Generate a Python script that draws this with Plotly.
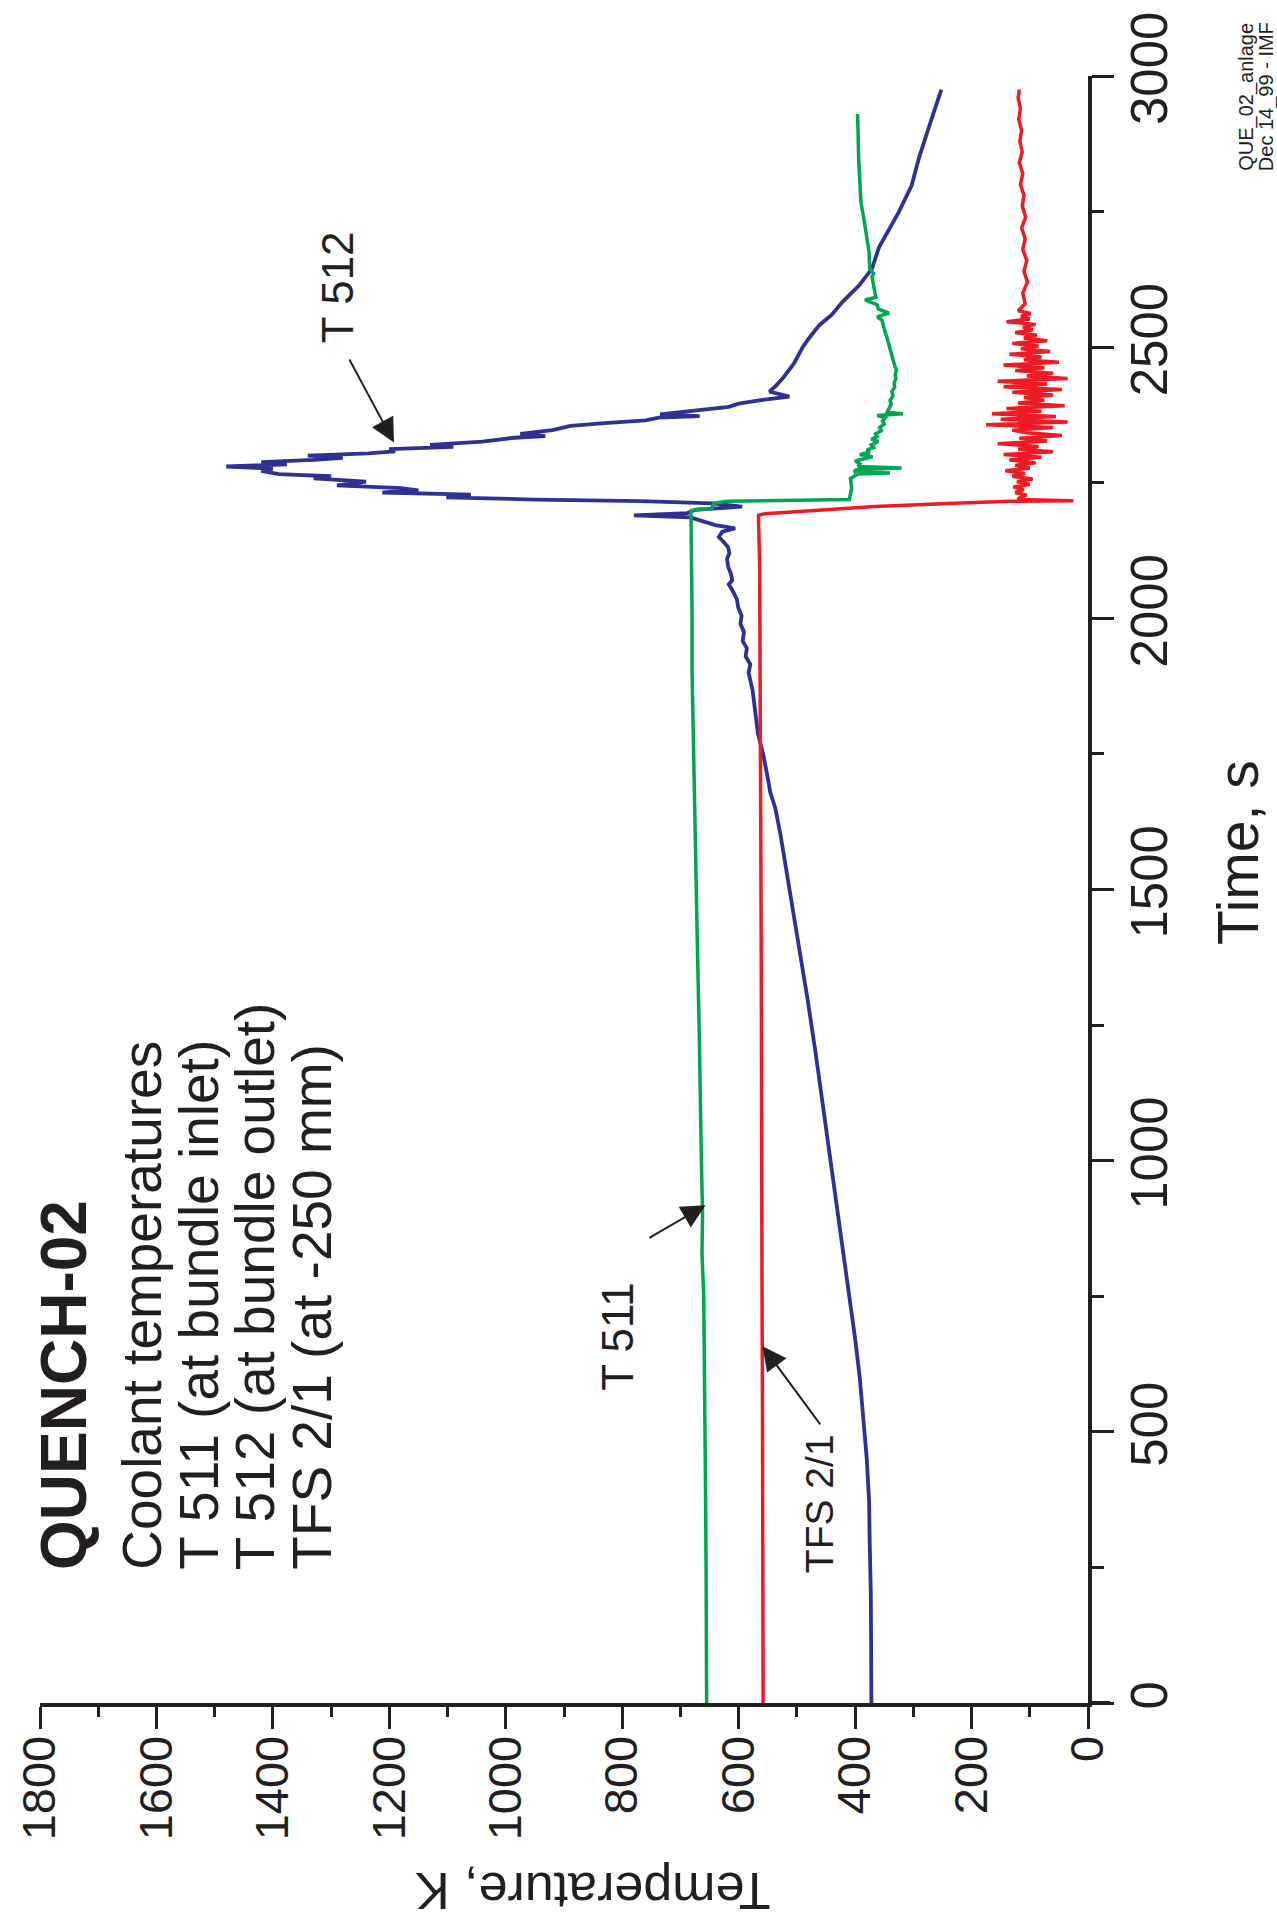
import plotly.graph_objects as go

# ---------------- data (time in s, temperature in K) ----------------
t_512 = [0, 100, 200, 300, 373, 450, 500, 600, 672, 750, 827, 900, 1016, 1100, 1200, 1300, 1400, 1500,
         1600, 1650, 1680, 1700, 1750, 1788, 1830, 1867, 1900, 1915, 1930, 1945, 1958, 1975, 1990, 2005,
         2021, 2035, 2050, 2063, 2070, 2081, 2095, 2110, 2120, 2131, 2140, 2150, 2160, 2166, 2172, 2186,
         2190, 2194, 2200, 2206, 2212, 2216, 2219, 2223, 2228, 2232, 2236, 2240, 2245, 2252, 2258, 2262,
         2266, 2272, 2276, 2280, 2284, 2288, 2292, 2296, 2300, 2304, 2308, 2312, 2316, 2320, 2326, 2333,
         2336, 2340, 2347, 2355, 2360, 2365, 2370, 2373, 2376, 2382, 2390, 2396, 2403, 2409, 2418, 2430,
         2443, 2470, 2500, 2517, 2541, 2560, 2583, 2614, 2645, 2684, 2725, 2749, 2798, 2850, 2900, 2940,
         2975]
T_512 = [372, 372, 373, 375, 376, 380, 384, 392, 400, 410, 419, 428, 443, 455, 468, 482, 497, 512,
         528, 537, 546, 549, 558, 567, 571, 576, 583, 580, 588, 586, 593, 591, 597, 595,
         601, 603, 610, 617, 611, 613, 618, 620, 616, 618, 625, 634, 628, 606, 640, 683,
         780, 688, 675, 594, 645, 768, 950, 1102, 1060, 1212, 1150, 1180, 1290, 1240, 1330, 1300,
         1390, 1420, 1400, 1480, 1376, 1420, 1330, 1280, 1340, 1236, 1190, 1200, 1090, 1130, 1040, 986,
         932, 975, 920, 889, 830, 760, 737, 667, 735, 690, 617, 600, 559, 513, 547, 535,
         524, 505, 490, 479, 461, 440, 422, 393, 371, 359, 337, 325, 303, 290, 275, 262,
         252]

t_511 = [0, 100, 250, 400, 500, 650, 750, 830, 900, 1000, 1100, 1250, 1400, 1500, 1650, 1750, 1900,
         2000, 2100, 2198, 2201, 2203, 2212, 2216, 2219, 2240, 2258, 2262, 2266, 2268, 2270, 2274, 2277,
         2280, 2285, 2290, 2294, 2298, 2302, 2306, 2310, 2315, 2320, 2326, 2330, 2335, 2340, 2346, 2352,
         2358, 2364, 2370, 2374, 2377, 2380, 2388, 2395, 2402, 2410, 2418, 2426, 2434, 2442, 2450, 2458,
         2466, 2474, 2482, 2490, 2500, 2510, 2520, 2530, 2540, 2550, 2556, 2563, 2570, 2578, 2587, 2592,
         2600, 2614, 2630, 2636, 2645, 2675, 2706, 2737, 2767, 2798, 2850, 2900, 2930]
T_511 = [655, 655, 656, 657, 658, 660, 660, 663, 662, 664, 665, 668, 671, 673, 676, 678, 680,
         680, 681, 682, 668, 646, 643, 620, 410, 406, 408, 400, 395, 340, 402, 398, 320,
         395, 392, 400, 385, 370, 392, 375, 380, 368, 372, 360, 372, 362, 365, 355, 358,
         350, 353, 348, 362, 318, 345, 342, 338, 340, 335, 337, 332, 333, 330, 331, 329,
         332, 334, 335, 337, 340, 343, 346, 349, 352, 354, 362, 342, 360, 362, 383, 364,
         366, 368, 371, 368, 375, 376, 380, 385, 390, 392, 394, 395, 396]

t_tfs = [0, 200, 500, 800, 1000, 1300, 1600, 1900, 2100, 2190, 2193, 2200, 2206, 2212, 2216, 2217,
         2219, 2222, 2227, 2232, 2237, 2242, 2247, 2252, 2257, 2262, 2267, 2272, 2277, 2282, 2287, 2292,
         2297, 2302, 2307, 2312, 2317, 2322, 2327, 2332, 2337, 2342, 2347, 2352, 2357, 2362, 2367, 2372,
         2377, 2382, 2387, 2392, 2397, 2402, 2407, 2412, 2417, 2422, 2427, 2432, 2437, 2442, 2447, 2452,
         2457, 2462, 2467, 2472, 2477, 2482, 2487, 2492, 2497, 2502, 2507, 2512, 2517, 2522, 2527, 2532,
         2537, 2542, 2547, 2552, 2557, 2562, 2567, 2580, 2600, 2620, 2640, 2660, 2680, 2700, 2720, 2740,
         2760, 2780, 2800, 2820, 2840, 2860, 2880, 2900, 2920, 2940, 2960, 2975]
T_tfs = [558, 558, 559, 560, 560, 561, 562, 563, 564, 566, 555, 450, 366, 230, 133, 25,
         120, 118, 105, 125, 110, 128, 100, 122, 95, 130, 108, 142, 100, 125, 90, 135,
         80, 145, 60, 120, 85, 155, 70, 118, 45, 105, 130, 60, 175, 35, 150, 55,
         165, 80, 140, 40, 120, 75, 110, 60, 130, 45, 145, 70, 155, 35, 105, 60,
         125, 75, 145, 50, 110, 80, 135, 65, 115, 85, 130, 70, 110, 88, 125, 95,
         112, 90, 140, 100, 115, 98, 120, 108, 112, 104, 110, 105, 112, 108, 114, 107,
         113, 110, 116, 112, 118, 113, 117, 114, 119, 116, 120, 118]

temp_ticks = [0, 200, 400, 600, 800, 1000, 1200, 1400, 1600, 1800]
time_ticks = [0, 500, 1000, 1500, 2000, 2500, 3000]

BLUE = "#2E3192"
RED = "#ED1C24"
GREEN = "#00A651"
INK = "#231F20"
SANS = "Liberation Sans, Arial, Helvetica, sans-serif"

# plot-area geometry (pixels) used to place the free texts
L, R, TOP, B = 31, 1088, 62, 1703
W, H = R - L, B - TOP


def px(x):
    return (x - L) / W


def py(y):
    return (B - y) / H


fig = go.Figure()
fig.add_trace(go.Scatter(x=T_512, y=t_512, mode="lines", line=dict(color=BLUE, width=3.8), name="T 512"))
fig.add_trace(go.Scatter(x=T_tfs, y=t_tfs, mode="lines", line=dict(color=RED, width=3.5), name="TFS 2/1"))
fig.add_trace(go.Scatter(x=T_511, y=t_511, mode="lines", line=dict(color=GREEN, width=3.5), name="T 511"))

fig.update_layout(
    width=1277, height=1932,
    margin=dict(l=L, r=1277 - R, t=TOP, b=1932 - B),
    paper_bgcolor="white", plot_bgcolor="white",
    showlegend=False,
    font=dict(family=SANS, color=INK),
)
fig.update_xaxes(
    range=[1800, 0], autorange=False,
    showgrid=False, zeroline=False,
    showline=True, linewidth=4, linecolor=INK,
    ticks="outside", ticklen=22, tickwidth=3, tickcolor=INK,
    tickvals=temp_ticks, ticktext=[str(v) for v in temp_ticks],
    minor=dict(dtick=100, ticks="outside", ticklen=10, tickwidth=3, tickcolor=INK),
    tickangle=-90, tickfont=dict(family=SANS, size=47, color=INK),
    ticklabelstandoff=-12, ticklabeloverflow="allow",
)
fig.update_yaxes(
    range=[0, 3000], autorange=False, side="right",
    showgrid=False, zeroline=False,
    showline=True, linewidth=4, linecolor=INK,
    ticks="outside", ticklen=22, tickwidth=3, tickcolor=INK,
    tickvals=time_ticks, ticktext=[str(v) for v in time_ticks],
    minor=dict(dtick=250, ticks="outside", ticklen=12, tickwidth=3, tickcolor=INK),
    tickangle=-90, tickfont=dict(family=SANS, size=51, color=INK),
    ticklabelstandoff=-8, ticklabeloverflow="allow",
)

# short extension of the temperature axis line beyond 0 K
fig.add_shape(type="line", xref="paper", yref="paper", x0=1, x1=1 + 22 / W, y0=0, y1=0,
              line=dict(color=INK, width=4))

anns = []


def txt(text, x, y, size, xanchor="center", yanchor="middle", angle=-90, bold=False):
    anns.append(dict(text=("<b>%s</b>" % text) if bold else text, x=px(x), y=py(y),
                     xref="paper", yref="paper", xanchor=xanchor, yanchor=yanchor,
                     textangle=angle, showarrow=False,
                     font=dict(family=SANS, size=size, color=INK)))


txt("QUENCH-02", 55, 1571, 64, yanchor="bottom", bold=True)
txt("Coolant temperatures", 133, 1571, 55, yanchor="bottom")
txt("T 511 (at bundle inlet)", 191, 1571, 55, yanchor="bottom")
txt("T 512 (at bundle outlet)", 248, 1571, 55, yanchor="bottom")
txt("TFS 2/1 (at -250 mm)", 305, 1571, 55, yanchor="bottom")
txt("T 512", 331, 333, 44, yanchor="bottom")
txt("T 511", 614, 1390, 44, yanchor="bottom")
txt("TFS 2/1", 818, 1430, 39, yanchor="top")
txt("Time, s", 1240, 845, 57)
txt("Temperature, K", 588, 1892, 52, angle=180)
txt("QUE_02_anlage", 1248, 160, 20, yanchor="bottom")
txt("Dec 14_99 - IMF", 1268, 160, 20, yanchor="bottom")

# pointer arrows (tip, tail) in data units (temperature, time)
arrows = [((1192, 2324), (1270, 2480)),
          ((657, 918), (756, 856)),
          ((559, 658), (458, 511))]
for (tx, ty), (sx, sy) in arrows:
    anns.append(dict(x=tx, y=ty, ax=sx, ay=sy, xref="x", yref="y", axref="x", ayref="y",
                     text="", showarrow=True, arrowhead=2, arrowsize=2.4, arrowwidth=2,
                     arrowcolor=INK, standoff=0))

fig.update_layout(annotations=anns)
fig.write_html("out.html")
